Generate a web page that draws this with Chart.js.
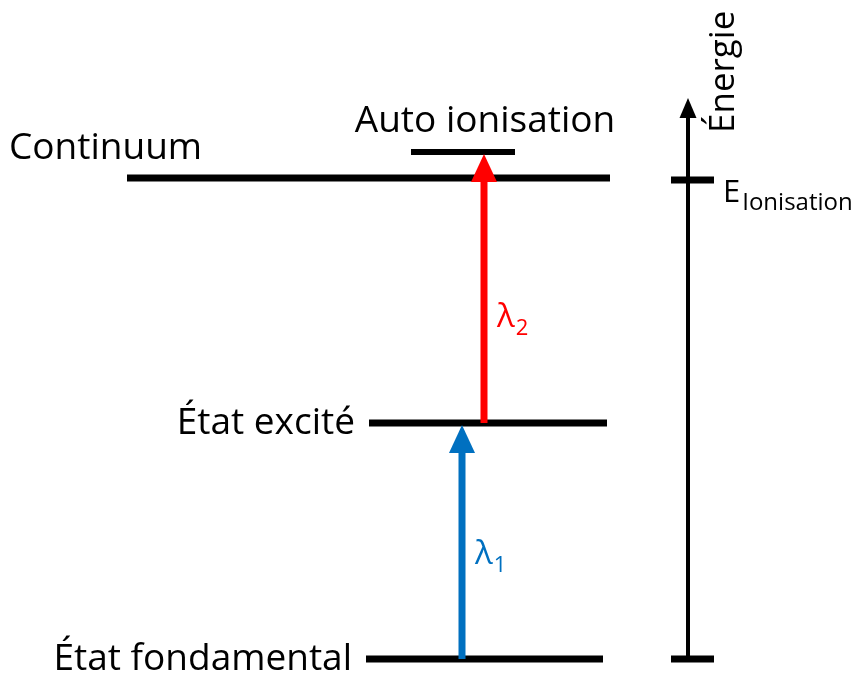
<!DOCTYPE html>
<html>
<head>
<meta charset="utf-8">
<script src="https://cdn.jsdelivr.net/npm/chart.js@4"></script>
<style>
  html, body { margin: 0; padding: 0; background: #fff; }
  #wrap { width: 867px; height: 678px; }
</style>
</head>
<body>
<div id="wrap"><canvas id="c" width="867" height="678"></canvas></div>
<script>
// Energy levels (energy in arbitrary units, 0 = bottom of picture)
const levelNames = ["État fondamental", "État excité", "Continuum", "Auto ionisation"];
const levelEnergy = [19, 255, 500, 526];
const levelStart = [366, 369, 127, 411];
const levelEnd = [603, 607, 610, 515];

// Transitions between levels
const transitionLabels = ["1", "2"];
const transitionFrom = [0, 1];
const transitionTo = [1, 3];
const transitionX = [462, 484];
const transitionColors = ["#0070C0", "#FF0000"];

// Energy axis at the right
const energyAxisX = 688;
const energyAxisTop = 580;
const energyTicks = [19, 498];

const FONT = "'Open Sans', sans-serif";

const datasets = levelNames.map((name, i) => ({
  label: name,
  data: [{ x: levelStart[i], y: levelEnergy[i] }, { x: levelEnd[i], y: levelEnergy[i] }],
  borderColor: "#000",
  borderWidth: i === 3 ? 6 : 7,
  borderCapStyle: "butt",
  pointRadius: 0,
  showLine: true,
}));

function arrow(ctx, x, y0, y1, color, width, headLen, headW) {
  ctx.save();
  ctx.strokeStyle = color;
  ctx.fillStyle = color;
  ctx.lineWidth = width;
  ctx.beginPath();
  ctx.moveTo(x, y0);
  ctx.lineTo(x, y1 + headLen - 1);
  ctx.stroke();
  ctx.beginPath();
  ctx.moveTo(x, y1);
  ctx.lineTo(x - headW / 2, y1 + headLen);
  ctx.lineTo(x + headW / 2, y1 + headLen);
  ctx.closePath();
  ctx.fill();
  ctx.restore();
}

const diagram = {
  id: "diagram",
  afterDatasetsDraw(chart) {
    const { ctx, scales: { x, y } } = chart;
    const px = v => x.getPixelForValue(v);
    const py = v => y.getPixelForValue(v);

    // transitions
    transitionLabels.forEach((sub, i) => {
      const xx = px(transitionX[i]);
      const yFrom = py(levelEnergy[transitionFrom[i]]);
      const yTo = py(levelEnergy[transitionTo[i]]) + 2;
      arrow(ctx, xx, yFrom, yTo, transitionColors[i], 7, 28, 26);
      const ym = i === 0 ? py(126) : py(363);
      ctx.save();
      ctx.fillStyle = transitionColors[i];
      ctx.textBaseline = "alphabetic";
      ctx.textAlign = "left";
      ctx.font = "33px " + FONT;
      ctx.fillText("λ", xx + 13, ym + 12);
      const w = ctx.measureText("λ").width;
      ctx.font = "22px " + FONT;
      ctx.fillText(sub, xx + 13 + w + 1, ym + 20);
      ctx.restore();
    });

    // level labels
    ctx.save();
    ctx.fillStyle = "#000";
    ctx.font = "37px " + FONT;
    ctx.textBaseline = "alphabetic";
    ctx.textAlign = "right";
    ctx.fillText(levelNames[0], px(levelStart[0]) - 14, py(levelEnergy[0]) + 11);
    ctx.fillText(levelNames[1], px(levelStart[1]) - 14, py(levelEnergy[1]) + 11);
    ctx.textAlign = "left";
    ctx.fillText(levelNames[2], 9, py(levelEnergy[2]) - 19);
    ctx.textAlign = "center";
    ctx.fillText(levelNames[3], 485, py(levelEnergy[3]) - 20);
    ctx.restore();

    // energy axis
    const ax = px(energyAxisX);
    arrow(ctx, ax, py(energyTicks[0]), py(energyAxisTop), "#000", 4, 20, 17);
    ctx.save();
    ctx.strokeStyle = "#000";
    ctx.lineWidth = 7;
    energyTicks.forEach(t => {
      ctx.beginPath();
      ctx.moveTo(ax - 17, py(t));
      ctx.lineTo(ax + 26, py(t));
      ctx.stroke();
    });
    ctx.fillStyle = "#000";
    ctx.textAlign = "left";
    ctx.textBaseline = "alphabetic";
    ctx.font = "31px " + FONT;
    ctx.fillText("E", ax + 35, py(energyTicks[1]) + 22);
    const ew = ctx.measureText("E").width;
    ctx.font = "24px " + FONT;
    ctx.fillText("Ionisation", ax + 35 + ew + 2, py(energyTicks[1]) + 30);
    ctx.translate(ax + 46, py(energyAxisTop) + 35);
    ctx.rotate(-Math.PI / 2);
    ctx.font = "35px " + FONT;
    ctx.fillText("Énergie", 0, 0);
    ctx.restore();
  }
};

new Chart(document.getElementById("c"), {
  type: "scatter",
  data: { datasets },
  options: {
    responsive: false,
    animation: false,
    layout: { padding: 0 },
    plugins: { legend: { display: false }, tooltip: { enabled: false } },
    scales: {
      x: { type: "linear", min: 0, max: 867, display: false },
      y: { type: "linear", min: 0, max: 678, display: false },
    },
  },
  plugins: [diagram],
});
</script>
</body>
</html>
